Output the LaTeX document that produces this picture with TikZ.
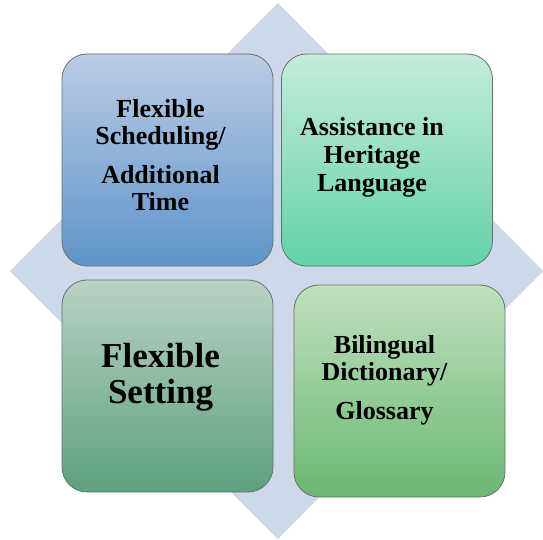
\documentclass[tikz,border=0pt]{standalone}
\usepackage{fontspec}
\setmainfont{Liberation Serif}
\usetikzlibrary{positioning}
\definecolor{diamondblue}{RGB}{205,216,232}
\definecolor{boxline}{RGB}{105,112,112}
\begin{document}
\begin{tikzpicture}[x=1pt,y=-1pt,
  tile/.style={rectangle,rounded corners=25pt,draw=boxline,line width=0.8pt,
    minimum width=211pt,minimum height=212pt,inner sep=0pt},
  word/.style={align=center,font=\fontsize{26}{27}\selectfont\bfseries}]
\useasboundingbox (0,0) rectangle (543,540);
\fill[diamondblue] (278,3) -- (543,271) -- (278,539) -- (10,271) -- cycle;
\node [tile,top color={rgb,255:red,186;green,204;blue,229},bottom color={rgb,255:red,95;green,148;blue,200}] (a) at (167.5,160) {};
\node [tile,top color={rgb,255:red,196;green,236;blue,218},bottom color={rgb,255:red,98;green,210;blue,168}] (b) at (387,160) {};
\node [tile,top color={rgb,255:red,184;green,210;blue,196},bottom color={rgb,255:red,94;green,160;blue,128}] (c) at (167.5,386) {};
\node [tile,top color={rgb,255:red,192;green,224;blue,190},bottom color={rgb,255:red,106;green,184;blue,114}] (d) at (399.5,391) {};
\node [word] (at) at ([xshift=-7pt,yshift=5pt]a.center) {Flexible\\Scheduling/\\[12pt]Additional\\Time};
\node [word,font=\fontsize{26}{28}\selectfont\bfseries] (bt) at ([xshift=-15pt,yshift=3pt]b.center) {Assistance in\\Heritage\\Language};
\node [word,font=\fontsize{35}{36}\selectfont\bfseries] (ct) at ([xshift=-7pt,yshift=9pt]c.center) {Flexible\\Setting};
\node [word] (dt) at ([xshift=-15pt,yshift=11pt]d.center) {Bilingual\\Dictionary/\\[12pt]Glossary};
\end{tikzpicture}
\end{document}
